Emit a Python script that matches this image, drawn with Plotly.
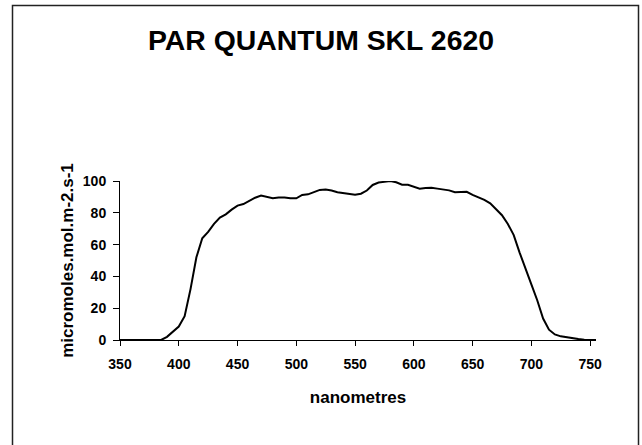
import plotly.graph_objects as go

# Data (wavelength nm, micromoles.mol.m-2.s-1)
wavelength = list(range(350, 760, 5))
par_values = [
    0, 0, 0, 0, 0, 0, 0, 0,            # 350-385
    2.0, 5.0, 8.5, 15.0, 32.0, 52.0, 64.0, 68.0,   # 390-425
    73.0, 77.0, 79.0, 82.0, 84.5, 85.5, 87.5, 89.5,  # 430-465
    90.8, 90.0, 89.1, 89.6, 89.6, 89.1, 89.1, 91.2,  # 470-505
    91.6, 93.0, 94.4, 94.6, 94.0, 92.9, 92.3, 91.8,  # 510-545
    91.3, 92.0, 94.0, 97.5, 99.0, 99.5, 100.0, 99.2,  # 550-585
    97.7, 97.6, 96.5, 95.2, 95.6, 95.8, 95.2, 94.8,  # 590-625
    94.1, 92.9, 93.2, 93.2, 91.3, 89.8, 88.1, 86.0,  # 630-665
    82.5, 78.5, 73.0, 66.0, 55.0, 44.5, 35.0, 25.0,  # 670-705
    13.5, 6.5, 3.5, 2.3, 1.6, 1.1, 0.6, 0.2,  # 710-745
    0.0, 0.0,  # 750-755
]
x_ticks = [350, 400, 450, 500, 550, 600, 650, 700, 750]
y_ticks = [0, 20, 40, 60, 80, 100]

title_text = "PAR QUANTUM SKL 2620"
x_title = "nanometres"
y_title = "micromoles.mol.m-2.s-1"

FONT = "Liberation Sans, Arial, sans-serif"

fig = go.Figure()
fig.add_trace(go.Scatter(
    x=wavelength, y=par_values, mode="lines",
    line=dict(color="black", width=2),
    showlegend=False, hoverinfo="skip",
))

fig.update_layout(
    width=642, height=445,
    margin=dict(l=120, r=46, t=181, b=105),
    paper_bgcolor="white", plot_bgcolor="white",
    font=dict(family=FONT, color="black"),
    title=dict(
        text="<b>" + title_text + "</b>",
        font=dict(family=FONT, size=28.4, color="black"),
        x=0.5, xref="container", xanchor="center",
        y=0.91, yref="container", yanchor="middle",
    ),
    xaxis=dict(
        range=[350, 755], tickvals=x_ticks, ticktext=[str(v) for v in x_ticks],
        showgrid=False, zeroline=False,
        showline=True, linecolor="black", linewidth=1,
        ticks="outside", ticklen=5, tickcolor="black", tickwidth=1,
        ticklabelstandoff=6,
        tickfont=dict(family=FONT, size=14, color="black", weight="bold"),
        title=dict(text="<b>" + x_title + "</b>", standoff=20,
                   font=dict(family=FONT, size=17, color="black")),
        automargin=False,
    ),
    yaxis=dict(
        range=[0, 100], tickvals=y_ticks, ticktext=[str(v) for v in y_ticks],
        showgrid=False, zeroline=False,
        showline=True, linecolor="black", linewidth=1,
        ticks="outside", ticklen=6, tickcolor="black", tickwidth=1,
        ticklabelstandoff=4,
        tickfont=dict(family=FONT, size=14, color="black", weight="bold"),
        title=dict(text="<b>" + y_title + "</b>", standoff=4,
                   font=dict(family=FONT, size=17, color="black")),
        automargin=False,
    ),
    shapes=[dict(
        type="rect", xref="paper", yref="paper",
        x0=(12.5 - 120) / 476, x1=(638.5 - 120) / 476,
        y0=(340 - 447) / 159, y1=(340 - 5.5) / 159,
        line=dict(color="#222222", width=1.5), fillcolor="rgba(0,0,0,0)",
        layer="below",
    )],
)

fig.write_html(
    "out.html",
    config={"displayModeBar": False},
    post_script="document.body.style.margin='0';document.body.style.overflow='hidden';",
)
